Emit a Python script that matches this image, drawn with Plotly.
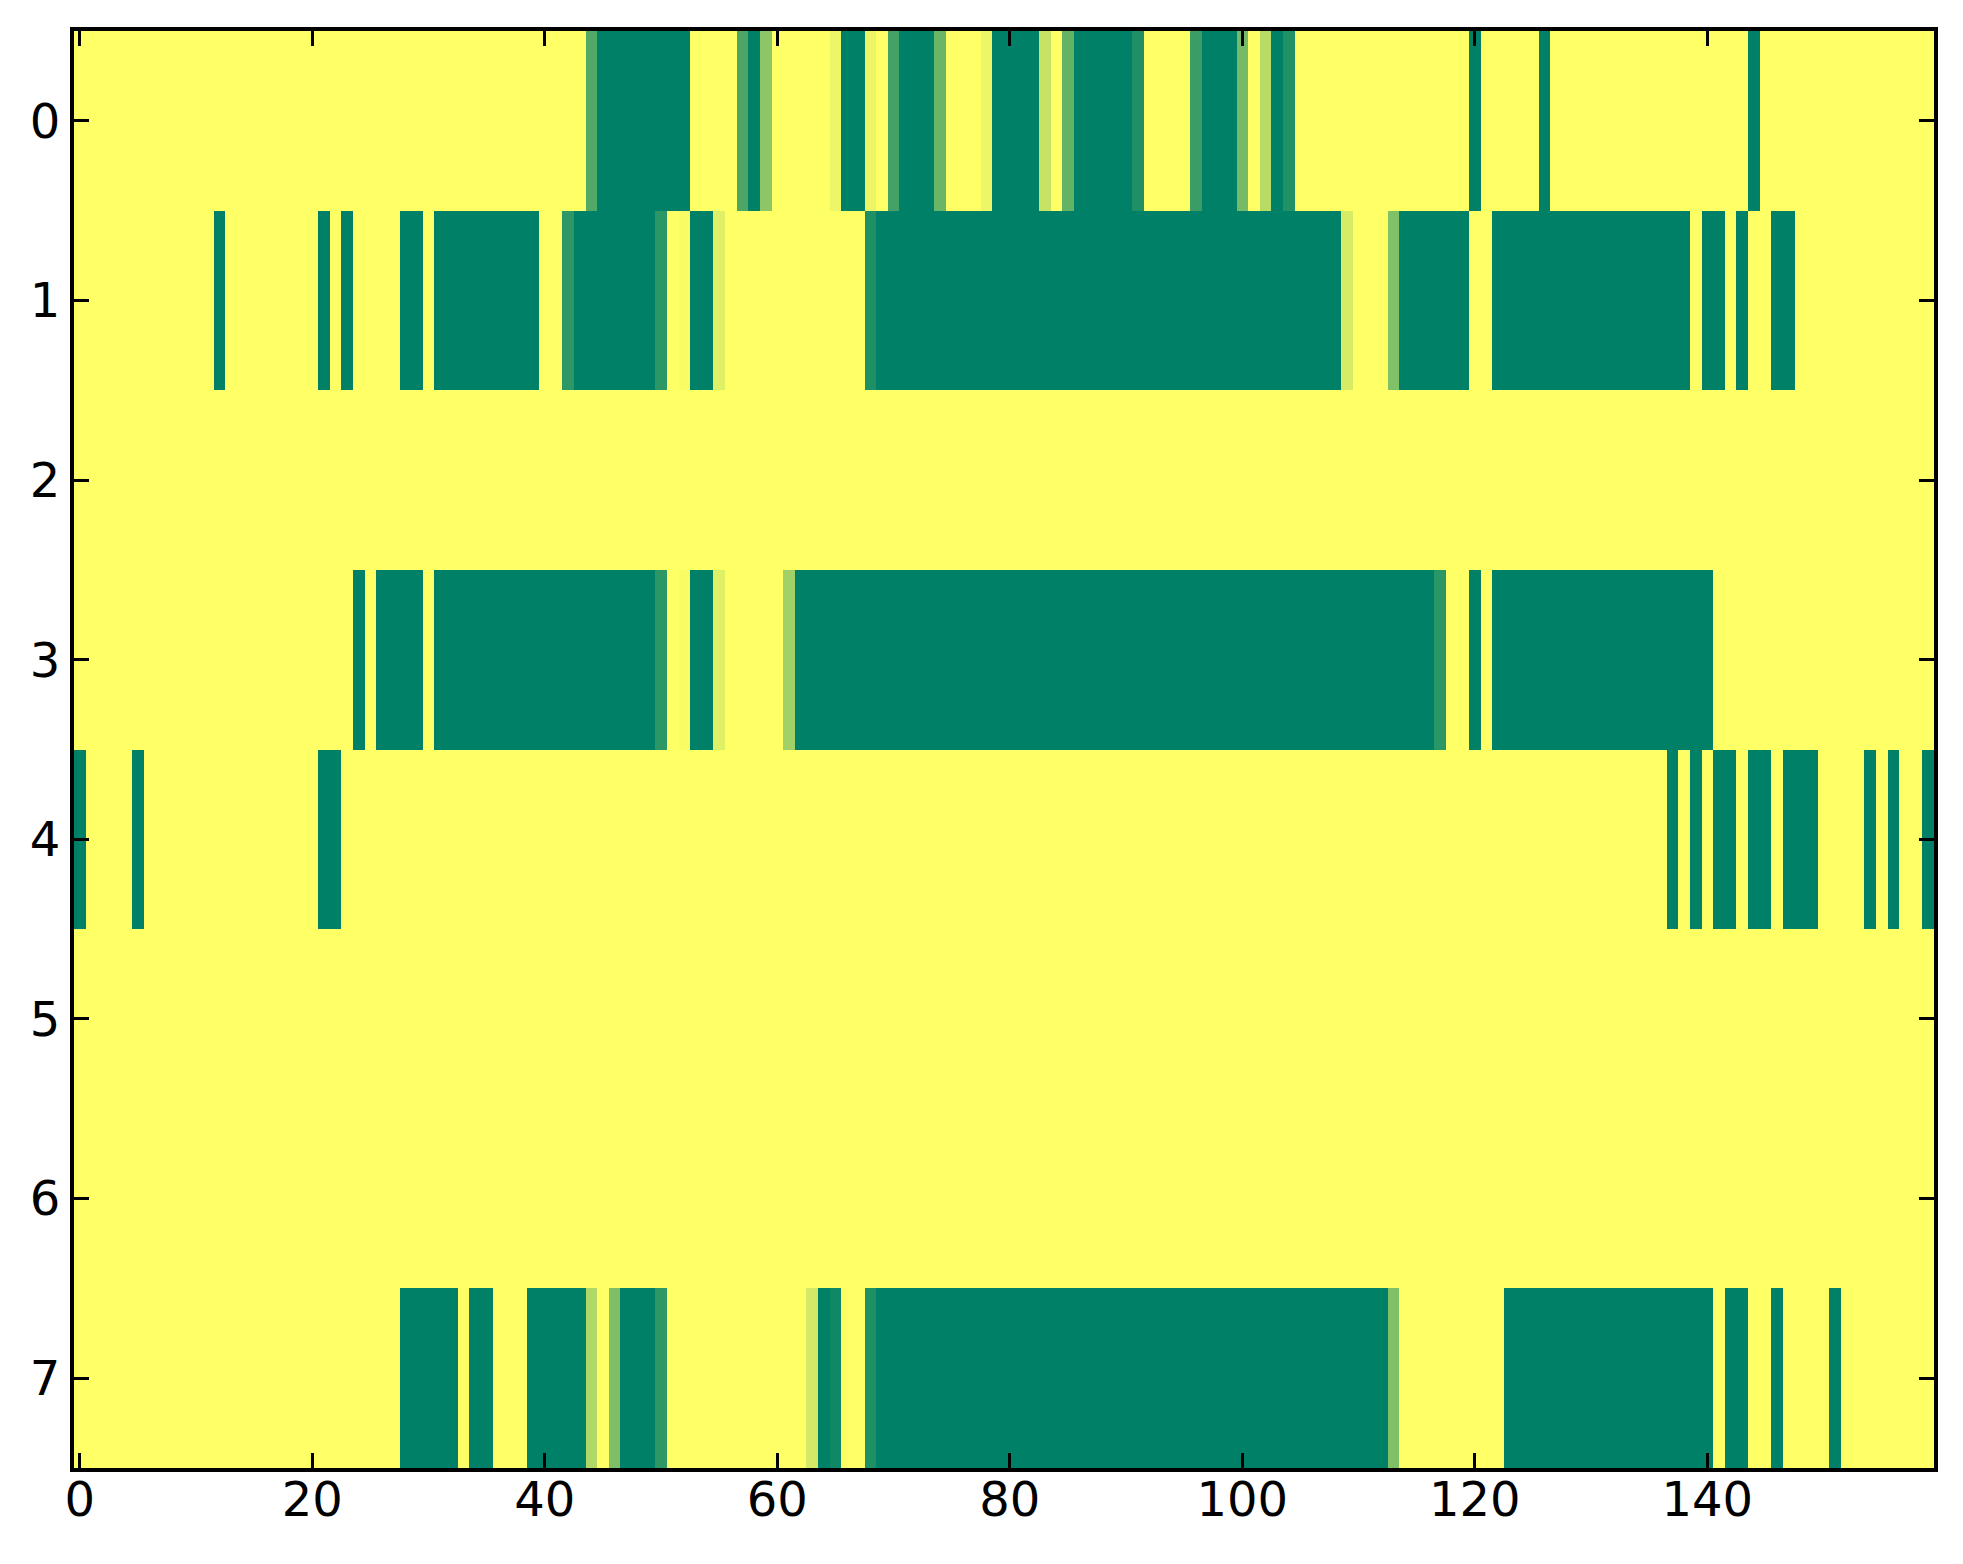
import plotly.graph_objects as go

# 8 rows x 160 columns, value 1 = yellow, 0 = dark green
n_cols = 160
row_labels = [0, 1, 2, 3, 4, 5, 6, 7]

# dark runs per row as (first, last) column, inclusive
dark0 = [(45, 52), (58, 58), (66, 67), (71, 73), (79, 82), (86, 90), (97, 99),
         (103, 103), (120, 120), (126, 126), (144, 144)]
dark1 = [(12, 12), (21, 21), (23, 23), (28, 29), (31, 39), (43, 49), (53, 54),
         (69, 108), (114, 119), (122, 138), (140, 141), (143, 143), (146, 147)]
dark2 = []
dark3 = [(24, 24), (26, 29), (31, 49), (53, 54), (62, 116), (120, 120), (122, 140)]
dark4 = [(0, 0), (5, 5), (21, 22), (137, 137), (139, 139), (141, 142), (144, 145),
         (147, 149), (154, 154), (156, 156), (159, 159)]
dark5 = []
dark6 = []
dark7 = [(28, 32), (34, 35), (39, 43), (47, 49), (64, 64), (69, 112), (123, 140),
         (142, 143), (146, 146), (151, 151)]

# in-between shades (column: value)
mid0 = {44: 0.32, 57: 0.30, 59: 0.55, 65: 0.93, 68: 0.92, 70: 0.27, 74: 0.42,
        78: 0.93, 83: 0.78, 85: 0.39, 91: 0.12, 96: 0.23, 100: 0.46, 102: 0.72,
        104: 0.13}
mid1 = {42: 0.18, 50: 0.17, 52: 0.98, 55: 0.88, 68: 0.12, 109: 0.84, 113: 0.50}
mid2 = {}
mid3 = {50: 0.17, 52: 0.98, 55: 0.88, 61: 0.63, 117: 0.17}
mid4 = {}
mid5 = {}
mid6 = {}
mid7 = {44: 0.69, 46: 0.49, 50: 0.18, 63: 0.83, 65: 0.06, 68: 0.12, 113: 0.50}

darks = [dark0, dark1, dark2, dark3, dark4, dark5, dark6, dark7]
mids = [mid0, mid1, mid2, mid3, mid4, mid5, mid6, mid7]

z = []
for runs, shades in zip(darks, mids):
    row = [1.0] * n_cols
    for a, b in runs:
        for c in range(a, b + 1):
            row[c] = 0.0
    for c, v in shades.items():
        row[c] = v
    z.append(row)

# matplotlib "summer" colormap
summer = [[0, "rgb(0,128,102)"], [1, "rgb(255,255,102)"]]

fig = go.Figure()
fig.add_trace(go.Heatmap(
    z=z,
    x=list(range(n_cols)),
    y=row_labels,
    colorscale=summer,
    zmin=0,
    zmax=1,
    zsmooth=False,
    showscale=False,
))

axis_style = dict(
    showline=True,
    linecolor="black",
    linewidth=4,
    mirror="ticks",
    ticks="inside",
    ticklen=15,
    tickwidth=3,
    tickcolor="black",
    showgrid=False,
    zeroline=False,
    tickfont=dict(family="DejaVu Sans", size=48, color="black"),
)

fig.update_xaxes(range=[-0.5, 159.5], tickvals=[0, 20, 40, 60, 80, 100, 120, 140],
                 ticklabelstandoff=-14, **axis_style)
fig.update_yaxes(range=[7.5, -0.5], tickvals=row_labels, **axis_style)

fig.update_layout(
    width=1963,
    height=1564,
    margin=dict(l=66, r=37, t=23, b=104),
    paper_bgcolor="white",
    plot_bgcolor="white",
)

fig.write_html("out.html")
